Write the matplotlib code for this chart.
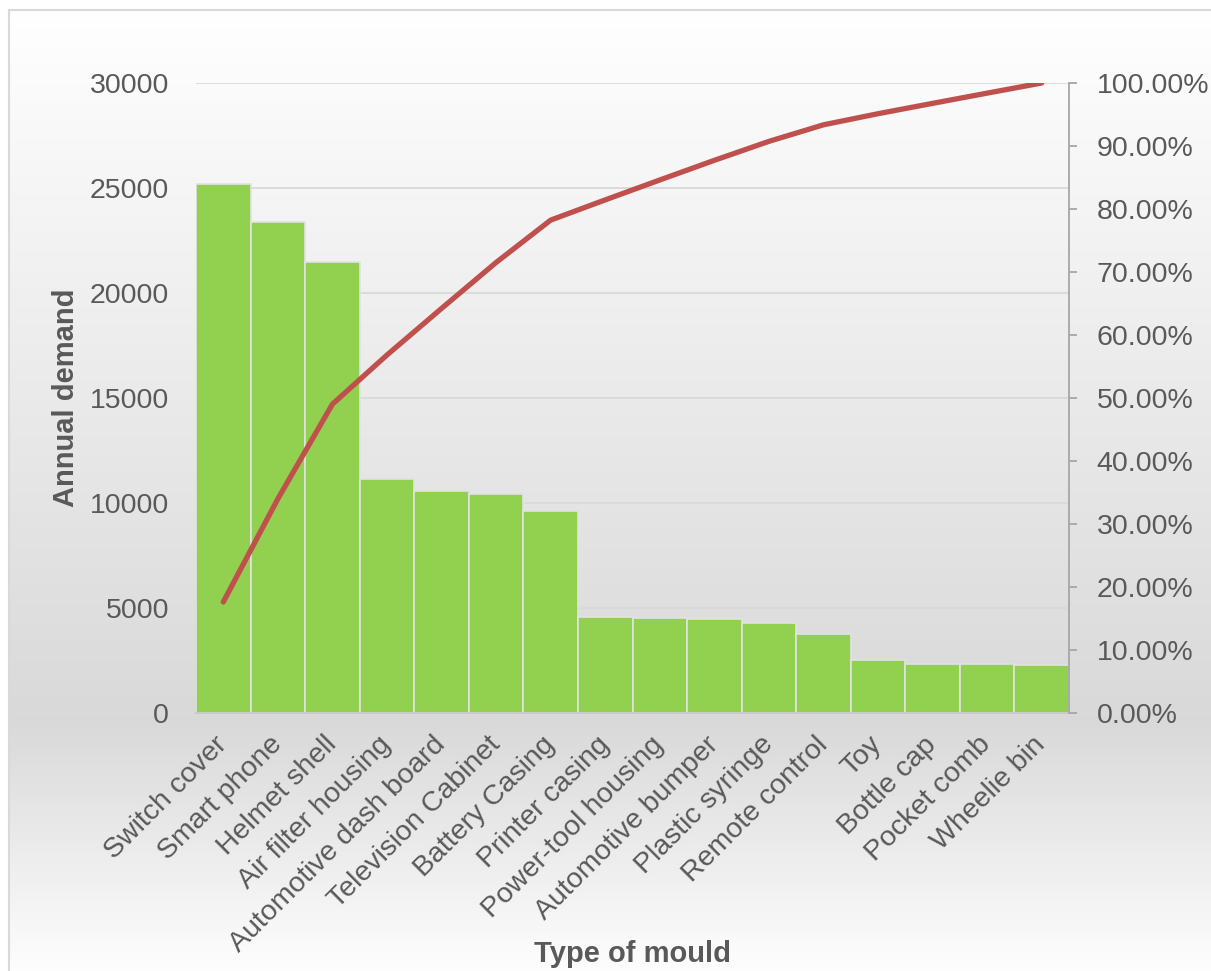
import numpy as np
import matplotlib
matplotlib.use("Agg")
import matplotlib.pyplot as plt
from matplotlib.ticker import FuncFormatter

plt.rcParams['font.family'] = ['Liberation Sans', 'DejaVu Sans']

moulds = ["Switch cover", "Smart phone", "Helmet shell", "Air filter housing",
          "Automotive dash board", "Television Cabinet", "Battery Casing",
          "Printer casing", "Power-tool housing", "Automotive bumper",
          "Plastic syringe", "Remote control", "Toy", "Bottle cap",
          "Pocket comb", "Wheelie bin"]
demand = [25200, 23400, 21500, 11150, 10570, 10430, 9620, 4590,
          4520, 4460, 4300, 3760, 2520, 2350, 2320, 2300]

# cumulative share for the pareto line
cum_pct = np.cumsum(demand) / np.sum(demand) * 100

txt_col = '#595959'
W, H = 1211, 971

fig = plt.figure(figsize=(W / 100, H / 100), dpi=100)

# background gradient: white at top, grey near axis, lighter again at bottom
bg = fig.add_axes([0, 0, 1, 1], zorder=-5)
ys = np.arange(H)
shade = np.interp(ys, [0, 10, 720, 971], [1.0, 1.0, 0.85, 0.995])
grad = np.repeat(shade[:, None], 2, axis=1)
bg.imshow(np.dstack([grad, grad, grad]), aspect='auto', extent=[0, 1, 0, 1],
          origin='upper')
bg.fill_between([0, 1], 1 - 10 / H, 1, color='white', lw=0)
bg.fill_between([0, 9 / W], 0, 1, color='white', lw=0)
bg.plot([9 / W, 9 / W], [0, 1 - 10 / H], color='#d9d9d9', lw=1.5)
bg.plot([9 / W, 1], [1 - 10 / H, 1 - 10 / H], color='#d9d9d9', lw=1.5)
bg.set_xlim(0, 1)
bg.set_ylim(0, 1)
bg.axis('off')

ax = fig.add_axes([196 / W, 1 - 713 / H, (1069 - 196) / W, (713 - 83) / H])
ax.patch.set_alpha(0)
x = np.arange(len(moulds))
ax.bar(x, demand, width=1.0, color='#92d050', edgecolor='#e2e2e2', linewidth=1.2, zorder=2)
ax.set_xlim(-0.5, len(moulds) - 0.5)
ax.set_ylim(0, 30000)
ax.set_yticks(np.arange(0, 30001, 5000))
ax.yaxis.grid(True, color='#d9d9d9', lw=1.3, zorder=0)
ax.set_axisbelow(True)
for s in ['top', 'right', 'left']:
    ax.spines[s].set_visible(False)
ax.spines['bottom'].set_color('#c8c8c8')
ax.spines['bottom'].set_linewidth(1.3)
ax.tick_params(axis='y', length=0, pad=19.5, labelsize=20.5, labelcolor=txt_col)
ax.tick_params(axis='x', length=0, pad=20, labelsize=20.5, labelcolor=txt_col)
ax.set_xticks(x)
ax.set_xticklabels(moulds, rotation=45, ha='right', va='center', rotation_mode='anchor')

fig.text(66 / W, 1 - 398 / H, 'Annual demand', rotation=90, ha='center', va='center',
         fontsize=21, fontweight='bold', color=txt_col)
fig.text(632 / W, 1 - 962 / H, 'Type of mould', ha='center', va='baseline',
         fontsize=21, fontweight='bold', color=txt_col)

ax2 = ax.twinx()
ax2.plot(x, cum_pct, color='#c0504d', lw=3.8, solid_capstyle='round',
         solid_joinstyle='round', zorder=3)
ax2.set_ylim(0, 100)
ax2.set_yticks(np.arange(0, 101, 10))
ax2.yaxis.set_major_formatter(FuncFormatter(lambda v, p: '%.2f%%' % v))
for s in ['top', 'left', 'bottom']:
    ax2.spines[s].set_visible(False)
ax2.spines['right'].set_color('#a6a6a6')
ax2.spines['right'].set_linewidth(1.3)
ax2.tick_params(axis='y', direction='out', length=5.5, width=1.3, color='#a6a6a6',
                pad=14.5, labelsize=20.5, labelcolor=txt_col)

fig.savefig('out.png', dpi=100)
